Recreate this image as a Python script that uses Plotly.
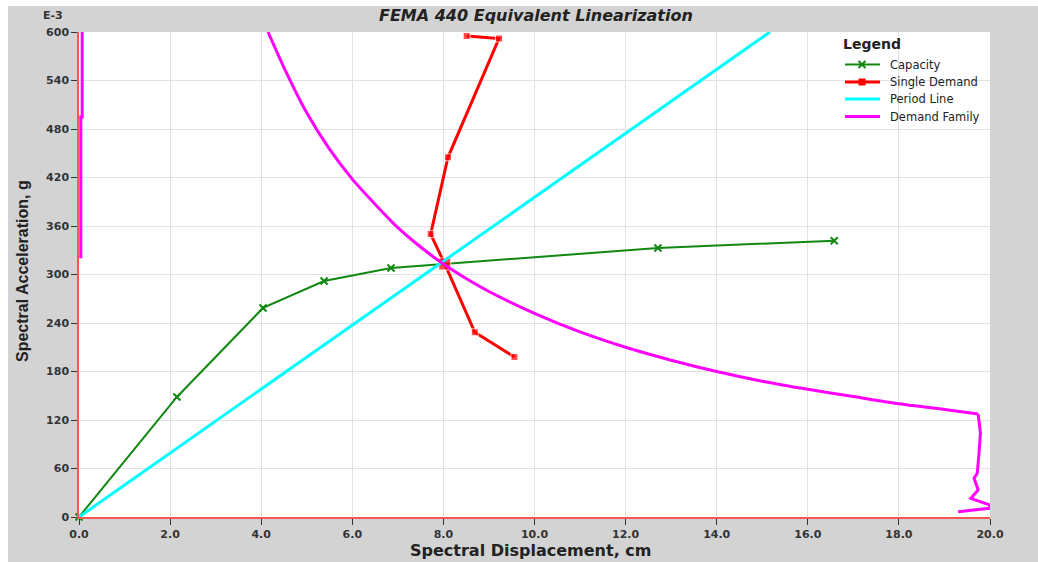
import plotly.graph_objects as go

# Capacity curve (spectral displacement in cm, spectral acceleration in 1e-3 g)
cap_sd = [0.0, 2.15, 4.04, 5.38, 6.85, 12.71, 16.58]
cap_sa = [0.0, 148.5, 258.6, 292.0, 308.0, 332.8, 341.8]

# Single demand iteration path
dem_sd = [8.51, 9.22, 8.10, 7.72, 8.03, 8.69, 9.56]
dem_sa = [595.0, 592.0, 445.0, 350.0, 313.0, 228.5, 198.0]

# Period line
per_sd = [0.0, 15.17]
per_sa = [0.0, 600.0]

# Demand family: smooth upper branch
fam_curve_sd = [4.15, 4.5, 5.0, 5.5, 6.0, 6.5, 7.0, 7.5, 8.0, 8.5, 9.0, 10.0,
                11.0, 12.0, 13.0, 14.0, 15.0, 16.0, 17.0, 18.0, 19.0, 19.74]
fam_curve_sa = [600, 556, 500, 455, 418, 387, 358, 334, 313, 295, 279, 252,
                229, 210, 194, 180, 168, 158, 149, 140, 133, 127.3]

# Demand family: long-period tail and the short segment along the left edge
fam_tail_sd = [19.74, 19.79, 19.76, 19.72, 19.65, 19.74, 19.58, 20.0, 19.98, 19.3,
               None, 0.07, 0.07, 0.04, 0.04]
fam_tail_sa = [127.3, 103.5, 80, 54, 48, 33.4, 23, 14.8, 10.7, 6.5,
               None, 600, 495, 495, 320]

x_ticks = [0, 2, 4, 6, 8, 10, 12, 14, 16, 18, 20]
y_ticks = [0, 60, 120, 180, 240, 300, 360, 420, 480, 540, 600]

legend_names = ["Capacity", "Single Demand", "Period Line", "Demand Family"]
legend_colors = ["#118811", "#ff0000", "#00ffff", "#ff00ff"]

W, H = 1038, 562
L, R, T, B = 79, 48, 32, 45
PW, PH = W - L - R, H - T - B

WIDE = "DejaVu Sans, Verdana, sans-serif"
NARROW = "Liberation Sans, Arial, sans-serif"


def px_x(x):
    return (x - L) / PW


def px_y(y):
    return (H - B - y) / PH


fig = go.Figure()
fig.add_trace(go.Scatter(
    x=cap_sd, y=cap_sa, name=legend_names[0], mode="lines+markers",
    line=dict(color=legend_colors[0], width=2),
    marker=dict(symbol="x-thin", size=7, line=dict(color=legend_colors[0], width=2)),
    cliponaxis=False))
fig.add_trace(go.Scatter(
    x=dem_sd, y=dem_sa, name=legend_names[1], mode="lines+markers",
    line=dict(color=legend_colors[1], width=3),
    marker=dict(symbol="square", size=[7, 7, 7, 7, 12, 7, 7], color=legend_colors[1])))
fig.add_trace(go.Scatter(
    x=per_sd, y=per_sa, name=legend_names[2], mode="lines",
    line=dict(color=legend_colors[2], width=3)))
fig.add_trace(go.Scatter(
    x=fam_curve_sd, y=fam_curve_sa, name=legend_names[3], mode="lines",
    line=dict(color=legend_colors[3], width=3, shape="spline", smoothing=0.8)))
fig.add_trace(go.Scatter(
    x=fam_tail_sd, y=fam_tail_sa, name=legend_names[3], mode="lines",
    line=dict(color=legend_colors[3], width=3), connectgaps=False))

axis_common = dict(
    showgrid=True, gridcolor="#e2e2e2", gridwidth=1,
    showline=True, linecolor="#ff5555", linewidth=1.5,
    ticks="outside", ticklen=6, tickcolor="#333333",
    tickfont=dict(family=WIDE, size=11, color="#333333", weight="bold"),
    zeroline=False, mirror=False,
)

shapes = [
    # grey frame behind everything, with the white plotting area on top
    dict(type="rect", xref="paper", yref="paper", layer="below",
         x0=px_x(8), x1=px_x(W), y0=px_y(H), y1=px_y(6),
         fillcolor="#d3d3d3", line=dict(width=0)),
    dict(type="rect", xref="paper", yref="paper", layer="below",
         x0=0, x1=1, y0=0, y1=1, fillcolor="white", line=dict(width=0)),
]

annotations = [
    dict(text="E-3", xref="paper", yref="paper", x=px_x(53), y=px_y(16),
         xanchor="center", yanchor="middle", showarrow=False,
         font=dict(size=11, color="#333333", family=WIDE, weight="bold")),
    dict(text="<b><i>FEMA 440 Equivalent Linearization</i></b>",
         xref="paper", yref="paper", x=px_x(536), y=px_y(16),
         xanchor="center", yanchor="middle", showarrow=False,
         font=dict(size=16, color="#222222", family=WIDE)),
    dict(text="<b>Spectral Displacement, cm</b>",
         xref="paper", yref="paper", x=px_x(530), y=px_y(550),
         xanchor="center", yanchor="middle", showarrow=False,
         font=dict(size=16, color="#222222", family=WIDE)),
    dict(text="<b>Spectral Acceleration, g</b>", textangle=-90,
         xref="paper", yref="paper", x=px_x(22), y=px_y(271),
         xanchor="center", yanchor="middle", showarrow=False,
         font=dict(size=16, color="#222222", family=NARROW)),
    dict(text="<b>Legend</b>", xref="paper", yref="paper",
         x=px_x(841), y=px_y(44), xanchor="left", yanchor="middle",
         showarrow=False, font=dict(size=14, color="#222222", family=WIDE)),
]

# Hand-built legend block: sample line, marker and label per series
legend_rows = [64.5, 82, 99, 116.5]
for name, color, ry in zip(legend_names, legend_colors, legend_rows):
    shapes.append(dict(type="line", xref="paper", yref="paper",
                       x0=px_x(845), x1=px_x(880), y0=px_y(ry), y1=px_y(ry),
                       line=dict(color=color, width=3 if name != "Capacity" else 2)))
    annotations.append(dict(text=name, xref="paper", yref="paper",
                            x=px_x(888), y=px_y(ry), xanchor="left", yanchor="middle",
                            showarrow=False,
                            font=dict(size=11.5, color="#222222", family=WIDE)))
# legend markers
cx, cy = 862, legend_rows[0]
for dx in (-1, 1):
    shapes.append(dict(type="line", xref="paper", yref="paper",
                       x0=px_x(cx - 3.5), x1=px_x(cx + 3.5),
                       y0=px_y(cy - 3.5 * dx), y1=px_y(cy + 3.5 * dx),
                       line=dict(color=legend_colors[0], width=2)))
cy = legend_rows[1]
shapes.append(dict(type="rect", xref="paper", yref="paper",
                   x0=px_x(cx - 3.5), x1=px_x(cx + 3.5),
                   y0=px_y(cy + 3.5), y1=px_y(cy - 3.5),
                   fillcolor=legend_colors[1], line=dict(width=0)))

fig.update_layout(
    width=W, height=H,
    margin=dict(l=L, r=R, t=T, b=B),
    paper_bgcolor="white", plot_bgcolor="white",
    font=dict(family=WIDE, color="#222222"),
    showlegend=False,
    xaxis=dict(range=[0, 20], tickvals=x_ticks,
               ticktext=[f"{v:.1f}" for v in x_ticks], **axis_common),
    yaxis=dict(range=[0, 600], tickvals=y_ticks,
               ticktext=[str(v) for v in y_ticks], **axis_common),
    shapes=shapes,
    annotations=annotations,
)

fig.write_html("out.html")
